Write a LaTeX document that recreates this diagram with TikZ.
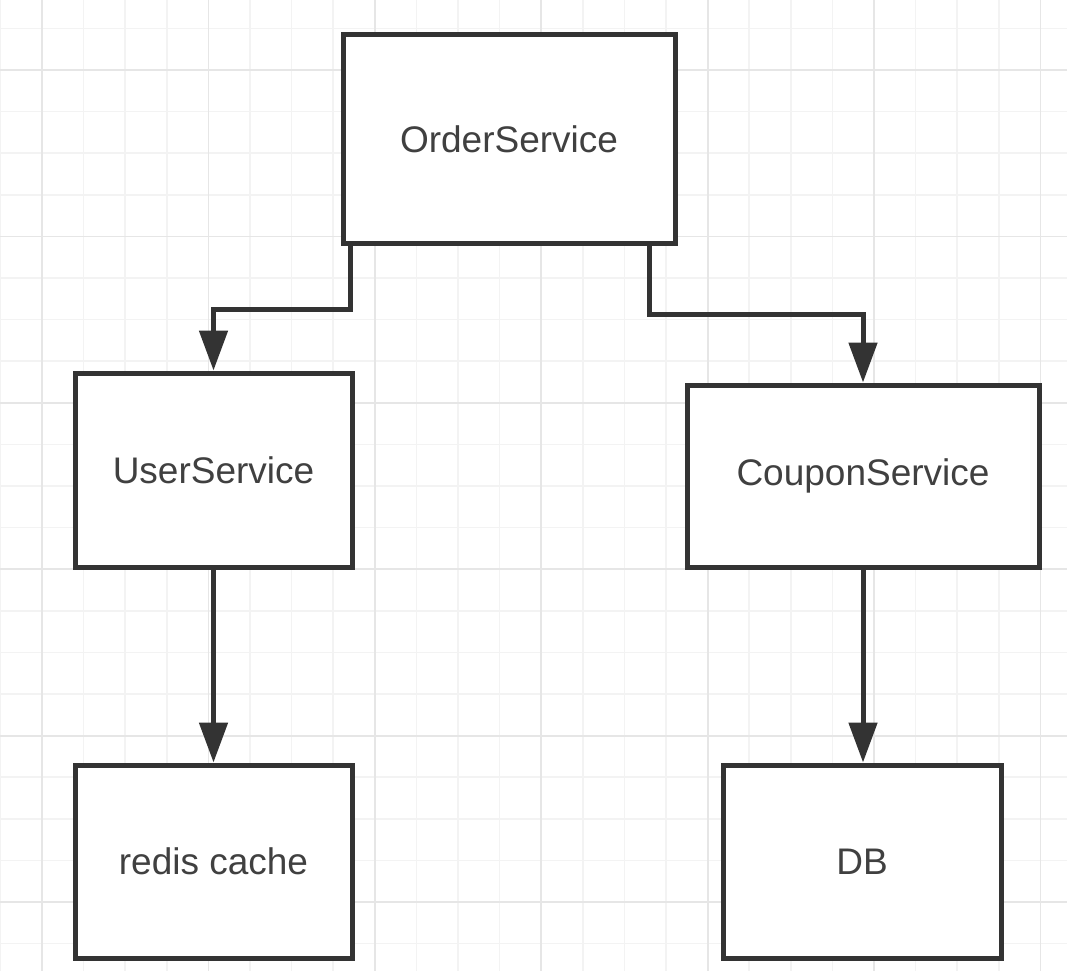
\documentclass[tikz,border=0pt]{standalone}
\usepackage{fontspec}
\setmainfont{Liberation Sans}
\usetikzlibrary{arrows.meta}
\definecolor{minorgrid}{HTML}{F3F3F3}
\definecolor{majorgrid}{HTML}{E6E6E6}
\definecolor{ink}{HTML}{333333}
\definecolor{txt}{HTML}{404040}
\tikzset{
  box/.style={draw=ink, line width=5pt, fill=white, rectangle, inner sep=0pt,
    text=txt, font=\fontsize{37}{44}\selectfont},
  conn/.style={draw=ink, line width=5pt, -{Triangle[length=40pt,width=28pt]}},
}
\begin{document}
\begin{tikzpicture}[x=1pt,y=-1pt]
\useasboundingbox (0,0) rectangle (1067,971);
\fill[white] (0,0) rectangle (1067,971);
% grid
\foreach \i in {0,...,25} {
  \draw[minorgrid, line width=1.5pt] ({0.4+41.6*\i},0) -- ({0.4+41.6*\i},971);
}
\foreach \j in {-1,...,22} {
  \draw[minorgrid, line width=1.5pt] (0,{70+41.6*\j}) -- (1067,{70+41.6*\j});
}
\foreach \i in {0,...,6} {
  \draw[majorgrid, line width=1.8pt] ({42+166.4*\i},0) -- ({42+166.4*\i},971);
}
\foreach \j in {0,...,5} {
  \draw[majorgrid, line width=1.8pt] (0,{70+166.4*\j}) -- (1067,{70+166.4*\j});
}
% nodes
\node[box, minimum width=332pt, minimum height=208pt] (order) at (509,139) {OrderService};
\node[box, minimum width=277pt, minimum height=194pt] (user) at (213.5,470) {UserService};
\node[box, minimum width=352pt, minimum height=182pt] (coupon) at (863,476) {CouponService};
\node[box, minimum width=277pt, minimum height=193pt] (redis) at (213.5,861.5) {redis cache};
\node[box, minimum width=278pt, minimum height=193pt] (db) at (862,861.5) {DB};
% connectors
\draw[conn] ([xshift=10pt]order.south west) -- ++(0,64) -| (user.north);
\draw[conn] ([xshift=309pt]order.south west) -- ++(0,69) -| (coupon.north);
\draw[conn] (user.south) -- (redis.north);
\draw[conn] (coupon.south) -- (coupon.south |- db.north);
\end{tikzpicture}
\end{document}
